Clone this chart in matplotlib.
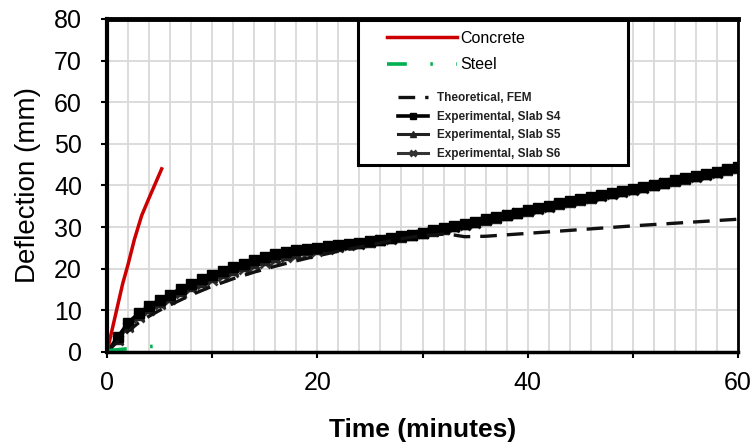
import numpy as np
import matplotlib
matplotlib.use("Agg")
import matplotlib.pyplot as plt
from matplotlib.patches import Rectangle

plt.rcParams['font.family'] = ['Liberation Sans', 'DejaVu Sans']

# concrete and steel curves (short, near origin)
concrete_t = [0, 0.5, 1, 1.5, 2, 2.6, 3.3, 4.0, 4.6, 5.2]
concrete_d = [0, 5.5, 11, 16.5, 21, 27, 32.8, 37, 40.5, 44]
steel_t = [0, 4.5]
steel_d = [0.3, 1.4]

# theoretical FEM
fem_t = [0, 1, 2, 3, 4, 5, 6, 8, 10, 12, 14, 16, 18, 20, 22, 24, 26, 28, 30,
         32, 33, 34, 36, 40, 45, 50, 55, 60]
fem_d = [0, 2.5, 5, 7, 8.6, 10, 11.3, 13.7, 15.8, 17.6, 19.2, 20.6, 21.9, 23.1,
         24.2, 25.2, 26.2, 27.2, 28, 28.3, 28.1, 27.7, 27.8, 28.5, 29.4, 30.3,
         31.1, 31.9]

# experimental, one reading per minute
exp_t = list(range(0, 61))
s4_d = [0, 3.5, 7, 9.3, 11, 12.5, 13.8, 15.2, 16.4, 17.5, 18.5, 19.5, 20.5,
        21.2, 22, 22.8, 23.5, 24, 24.4, 24.8, 25.1, 25.4, 25.7, 26, 26.3, 26.6,
        27, 27.4, 27.8, 28.2, 28.7, 29.2, 29.7, 30.3, 30.8, 31.3, 31.9, 32.4,
        33, 33.5, 34, 34.6, 35.1, 35.7, 36.2, 36.7, 37.2, 37.7, 38.2, 38.7,
        39.2, 39.7, 40.2, 40.7, 41.2, 41.7, 42.3, 42.8, 43.3, 43.9, 44.4]
s5_d = [0, 3.2, 6.5, 8.8, 10.5, 12, 13.3, 14.6, 15.8, 16.9, 17.9, 18.9, 19.8,
        20.6, 21.4, 22.1, 22.8, 23.4, 23.9, 24.4, 24.8, 25.2, 25.5, 25.9, 26.2,
        26.5, 26.9, 27.3, 27.7, 28.1, 28.6, 29.1, 29.6, 30.2, 30.7, 31.2, 31.8,
        32.3, 32.9, 33.4, 33.9, 34.5, 35, 35.6, 36.1, 36.6, 37.1, 37.6, 38.1,
        38.6, 39.1, 39.6, 40.1, 40.6, 41.1, 41.6, 42.2, 42.7, 43.2, 43.8, 44.3]
s6_d = [0, 3, 6, 8.3, 10, 11.5, 12.8, 14.1, 15.3, 16.3, 17.2, 18.2, 19.1,
        19.9, 20.7, 21.4, 22.1, 22.8, 23.4, 23.9, 24.3, 24.8, 25.2, 25.6, 26,
        26.4, 26.8, 27.2, 27.6, 28, 28.5, 29, 29.5, 30.1, 30.6, 31.1, 31.7,
        32.2, 32.8, 33.3, 33.8, 34.4, 34.9, 35.5, 36, 36.5, 37, 37.5, 38, 38.5,
        39, 39.5, 40, 40.5, 41, 41.5, 42.1, 42.6, 43.1, 43.7, 44.2]

fig = plt.figure(figsize=(7.54, 4.48), dpi=100)
ax = fig.add_axes([0.1419, 0.2143, 0.8369, 0.7433])

# experimental curves
l_s6, = ax.plot(exp_t, s6_d, color='#333333', lw=2.2, marker='x', ms=7, mew=2,
                label='Experimental, Slab S6')
l_s5, = ax.plot(exp_t, s5_d, color='#222222', lw=2.2, marker='^', ms=7,
                label='Experimental, Slab S5')
l_s4, = ax.plot(exp_t, s4_d, color='black', lw=2.6, marker='s', ms=6.5,
                label='Experimental, Slab S4')
l_fem, = ax.plot(fem_t, fem_d, color='#111111', lw=2.4, ls=(0, (5, 3)),
                 label='Theoretical, FEM')
l_con, = ax.plot(concrete_t, concrete_d, color='#cc0000', lw=2.5, label='Concrete')
l_stl, = ax.plot(steel_t, steel_d, color='#00b050', lw=2.6,
                 ls=(0, (5.5, 6.5, 0.7, 6.5)), label='Steel')

ax.set_xlim(0, 60)
ax.set_ylim(0, 80)
ax.set_xticks(range(0, 61, 10))
ax.set_xticklabels(['0', '', '20', '', '40', '', '60'])
ax.set_xticks(np.arange(0, 61, 2), minor=True)
ax.set_yticks(range(0, 81, 10))
ax.tick_params(axis='x', which='minor', length=0)
ax.tick_params(axis='both', which='major', direction='out', length=4, width=1.5,
               labelsize=18)
ax.tick_params(axis='y', pad=14)
ax.tick_params(axis='x', pad=10)

ax.grid(True, axis='x', which='both', color='#d9d9d9', lw=1.3)
ax.grid(True, axis='y', which='major', color='#d9d9d9', lw=1.3)
ax.set_axisbelow(True)

ax.spines['left'].set_linewidth(3)
ax.spines['bottom'].set_linewidth(2.5)
ax.spines['top'].set_linewidth(3.5)
ax.spines['right'].set_linewidth(2)

ax.set_ylabel('Deflection (mm)', fontsize=20, labelpad=9)
ax.set_xlabel('Time (minutes)', fontsize=19, fontweight='bold', labelpad=16)

# legend frame
box = Rectangle((0.398, 0.5616), 0.428, 0.4354, transform=ax.transAxes,
                facecolor='white', edgecolor='black', lw=2.2, zorder=4,
                clip_on=False)
ax.add_patch(box)

leg1 = ax.legend(handles=[l_con, l_stl], loc='upper left',
                 bbox_to_anchor=(0.444, 0.964), frameon=False, fontsize=11.5,
                 handlelength=4.4, handletextpad=0.15, labelspacing=0.7,
                 borderpad=0, borderaxespad=0)
leg1.set_zorder(5)
ax.add_artist(leg1)
leg2 = ax.legend(handles=[l_fem, l_s4, l_s5, l_s6], loc='upper left',
                 bbox_to_anchor=(0.461, 0.78), frameon=False,
                 prop={'size': 8.5, 'weight': 'bold'}, markerscale=0.7,
                 handlelength=2.55, handletextpad=0.8, labelspacing=0.55,
                 borderpad=0, borderaxespad=0)
leg2.set_zorder(5)
for t in leg2.get_texts():
    t.set_color('#222222')

fig.savefig('out.png', dpi=100)
